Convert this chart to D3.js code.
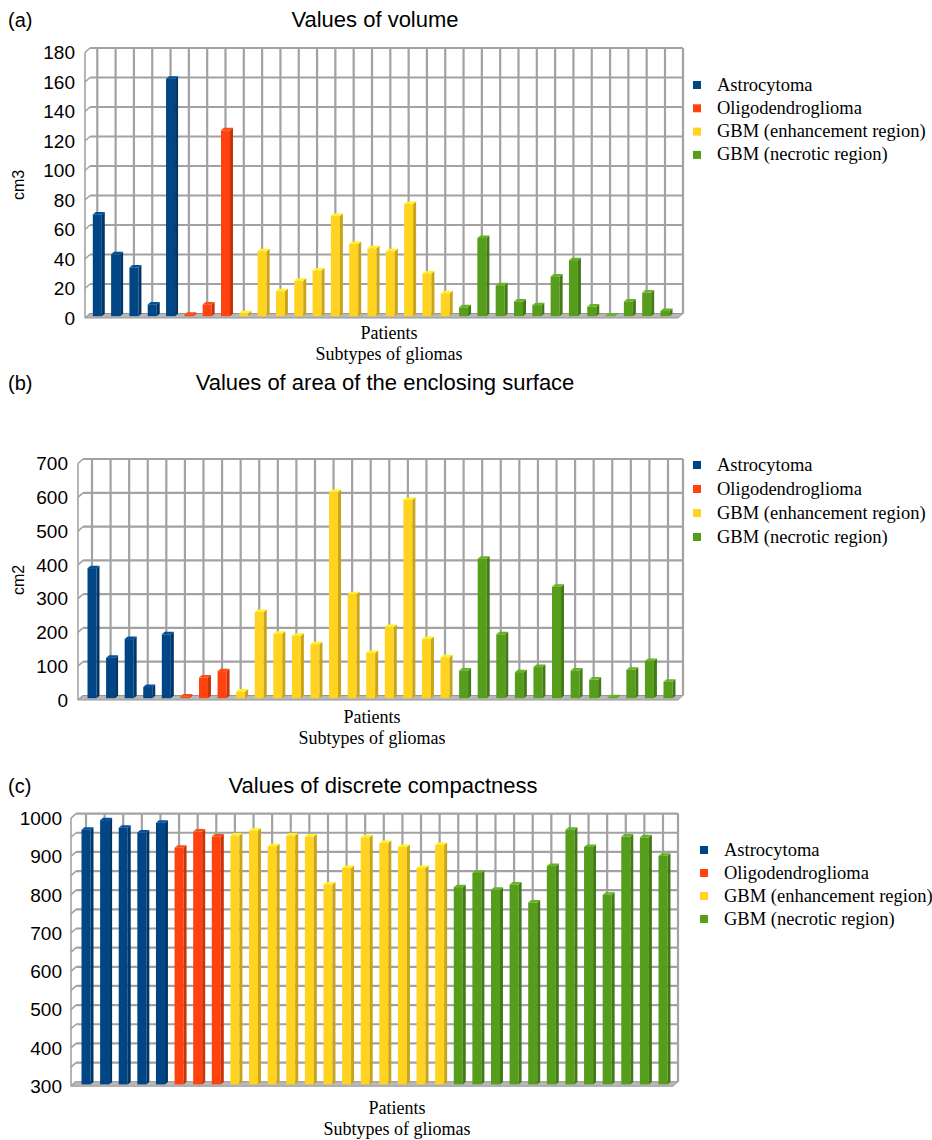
<!DOCTYPE html>
<html>
<head>
<meta charset="utf-8">
<script src="https://cdn.jsdelivr.net/npm/d3@7"></script>
<style>
  body { margin: 0; background: #fff; }
  text { fill: #000; }
</style>
</head>
<body>
<svg id="chart" width="932" height="1140"></svg>
<script>
// legend entries and the OpenOffice default palette
const subtypes = ["Astrocytoma", "Oligodendroglioma", "GBM (enhancement region)", "GBM (necrotic region)"];
const subtypeColors = ["#004586", "#ff420e", "#ffd320", "#579d1c"];

// (a) volume, cm3
const volumeAstro = [69, 42, 33, 8, 161];
const volumeOligo = [1, 8, 126];
const volumeGbmEnh = [2, 44, 17, 24, 31, 68, 49, 46, 44, 76, 29, 15.5];
const volumeGbmNec = [6, 53, 21, 10, 7.5, 27, 38, 6.5, 0.5, 10, 16, 3.5];
const volumeTicks = [0, 20, 40, 60, 80, 100, 120, 140, 160, 180];

// (b) area of the enclosing surface, cm2
const areaAstro = [385, 120, 175, 33, 189];
const areaOligo = [5, 61, 80];
const areaGbmEnh = [20, 255, 191, 185, 160, 610, 308, 134, 211, 587, 175, 121];
const areaGbmNec = [82, 413, 189, 77, 92, 330, 82, 55, 3, 84, 110, 49];
const areaTicks = [0, 100, 200, 300, 400, 500, 600, 700];

// (c) discrete compactness
const compactAstro = [965, 990, 970, 958, 983];
const compactOligo = [918, 960, 947];
const compactGbmEnh = [950, 963, 922, 950, 947, 822, 865, 945, 930, 920, 865, 925];
const compactGbmNec = [815, 852, 808, 822, 775, 870, 965, 920, 795, 947, 945, 897];
const compactTicks = [300, 400, 500, 600, 700, 800, 900, 1000];

const svg = d3.select("#chart");
const gridColor = "#a2a2a2";
const serif = "'Liberation Serif', 'Times New Roman', serif";
const sans = "'Liberation Sans', Arial, sans-serif";

const panels = [
  {
    tag: "(a)", title: "Values of volume", yTitle: "cm3",
    series: [volumeAstro, volumeOligo, volumeGbmEnh, volumeGbmNec],
    ticks: volumeTicks, gridStep: 20,
    bx0: 90, bx1: 683, byTop: 48, by0: 313.5, dx: 5, dy: 4.5,
    first: 97.3, last: 665, labelRight: 75,
    titleX: 375, titleY: 27, yTitleX: 24, yTitleY: 185,
    xTitleX: 389, xTitleY: 339, legendX: 693, legendY: 85, legendStep: 23.3
  },
  {
    tag: "(b)", title: "Values of area of the enclosing surface", yTitle: "cm2",
    series: [areaAstro, areaOligo, areaGbmEnh, areaGbmNec],
    ticks: areaTicks, gridStep: 100,
    bx0: 83, bx1: 683, byTop: 459, by0: 695.5, dx: 5, dy: 4.5,
    first: 92, last: 668, labelRight: 68,
    titleX: 385, titleY: 390, yTitleX: 24, yTitleY: 580,
    xTitleX: 372, xTitleY: 723, legendX: 693, legendY: 465, legendStep: 24
  },
  {
    tag: "(c)", title: "Values of discrete compactness", yTitle: null,
    series: [compactAstro, compactOligo, compactGbmEnh, compactGbmNec],
    ticks: compactTicks, gridStep: 50,
    bx0: 76, bx1: 678, byTop: 813.6, by0: 1081.7, dx: 5, dy: 4.5,
    first: 86, last: 663, labelRight: 62,
    titleX: 383, titleY: 793, yTitleX: null, yTitleY: null,
    xTitleX: 397, xTitleY: 1114, legendX: 700, legendY: 850, legendStep: 23
  }
];

function drawPanel(p) {
  const g = svg.append("g");
  const values = p.series.flat();
  const group = p.series.flatMap((s, k) => s.map(() => k));
  const lo = p.ticks[0], hi = p.ticks[p.ticks.length - 1];

  const x = d3.scalePoint().domain(d3.range(values.length)).range([p.first, p.last]);
  const y = d3.scaleLinear().domain([lo, hi]).range([p.by0, p.byTop]);

  // floor
  g.append("path")
    .attr("d", `M${p.bx0},${p.by0}L${p.bx1},${p.by0}L${p.bx1 - p.dx},${p.by0 + p.dy}L${p.bx0 - p.dx},${p.by0 + p.dy}Z`)
    .attr("fill", "#b8b8b8").attr("stroke", "#979797").attr("stroke-width", 1);

  const gridVals = d3.range(lo, hi + 0.001, p.gridStep);

  // back wall grid
  g.selectAll(".hgrid").data(gridVals.filter(v => v > lo)).join("line")
    .attr("x1", p.bx0).attr("x2", p.bx1)
    .attr("y1", d => y(d)).attr("y2", d => y(d))
    .attr("stroke", gridColor).attr("stroke-width", 2.2);

  g.selectAll(".vgrid").data(d3.range(values.length)).join("line")
    .attr("x1", d => x(d)).attr("x2", d => x(d))
    .attr("y1", p.byTop).attr("y2", p.by0)
    .attr("stroke", gridColor).attr("stroke-width", 2.2);

  g.append("line")
    .attr("x1", p.bx1).attr("x2", p.bx1).attr("y1", p.byTop).attr("y2", p.by0)
    .attr("stroke", gridColor).attr("stroke-width", 2.2);

  // left wall
  g.selectAll(".lgrid").data(gridVals).join("line")
    .attr("x1", p.bx0 - p.dx).attr("x2", p.bx0)
    .attr("y1", d => y(d) + p.dy).attr("y2", d => y(d))
    .attr("stroke", gridColor).attr("stroke-width", 1.6);

  g.append("line")
    .attr("x1", p.bx0 - p.dx).attr("x2", p.bx0 - p.dx)
    .attr("y1", y(hi) + p.dy).attr("y2", p.by0 + p.dy)
    .attr("stroke", gridColor).attr("stroke-width", 1.6);

  // 3D bars
  const w = 9, sd = 3, sdy = 2.5, shift = p.dy * 0.6;
  const bars = g.selectAll(".bar").data(values).join("g");

  bars.append("rect")
    .attr("x", (d, i) => x(i) - w / 2)
    .attr("y", d => y(d) + shift)
    .attr("width", w)
    .attr("height", d => Math.max(0.5, y(lo) - y(d)))
    .attr("fill", (d, i) => subtypeColors[group[i]]);

  bars.append("path")
    .attr("d", (d, i) => {
      const r = x(i) + w / 2, t = y(d) + shift, b = y(lo) + shift;
      return `M${r},${t}L${r + sd},${t - sdy}L${r + sd},${b - sdy}L${r},${b}Z`;
    })
    .attr("fill", (d, i) => d3.color(subtypeColors[group[i]]).darker(0.7));

  bars.append("path")
    .attr("d", (d, i) => {
      const l = x(i) - w / 2, r = x(i) + w / 2, t = y(d) + shift;
      return `M${l},${t}L${l + sd},${t - sdy}L${r + sd},${t - sdy}L${r},${t}Z`;
    })
    .attr("fill", (d, i) => d3.color(subtypeColors[group[i]]).brighter(0.4));

  // y tick labels, on the front edge
  g.selectAll(".ylab").data(p.ticks).join("text")
    .attr("x", p.labelRight)
    .attr("y", d => y(d) + p.dy)
    .attr("dy", "0.36em")
    .attr("text-anchor", "end")
    .style("font", `19px ${sans}`)
    .text(d => d);

  if (p.yTitle) {
    g.append("text")
      .attr("transform", `translate(${p.yTitleX},${p.yTitleY}) rotate(-90)`)
      .attr("text-anchor", "middle")
      .style("font", `16px ${sans}`)
      .text(p.yTitle);
  }

  g.append("text")
    .attr("x", 8).attr("y", p.titleY)
    .style("font", `20px ${sans}`)
    .text(p.tag);

  g.append("text")
    .attr("x", p.titleX).attr("y", p.titleY)
    .attr("text-anchor", "middle")
    .style("font", `22px ${sans}`)
    .text(p.title);

  g.append("text")
    .attr("x", p.xTitleX).attr("y", p.xTitleY)
    .attr("text-anchor", "middle")
    .style("font", `18px ${serif}`)
    .text("Patients");

  g.append("text")
    .attr("x", p.xTitleX).attr("y", p.xTitleY + 21)
    .attr("text-anchor", "middle")
    .style("font", `18px ${serif}`)
    .text("Subtypes of gliomas");

  // legend
  const leg = g.selectAll(".leg").data(subtypes).join("g")
    .attr("transform", (d, i) => `translate(${p.legendX},${p.legendY + i * p.legendStep})`);
  leg.append("rect").attr("x", 0).attr("y", -4).attr("width", 8).attr("height", 8)
    .attr("fill", (d, i) => subtypeColors[i]);
  leg.append("text").attr("x", 24).attr("y", 5.5)
    .style("font", `18.5px ${serif}`)
    .text(d => d);
}

panels.forEach(drawPanel);
</script>
</body>
</html>
